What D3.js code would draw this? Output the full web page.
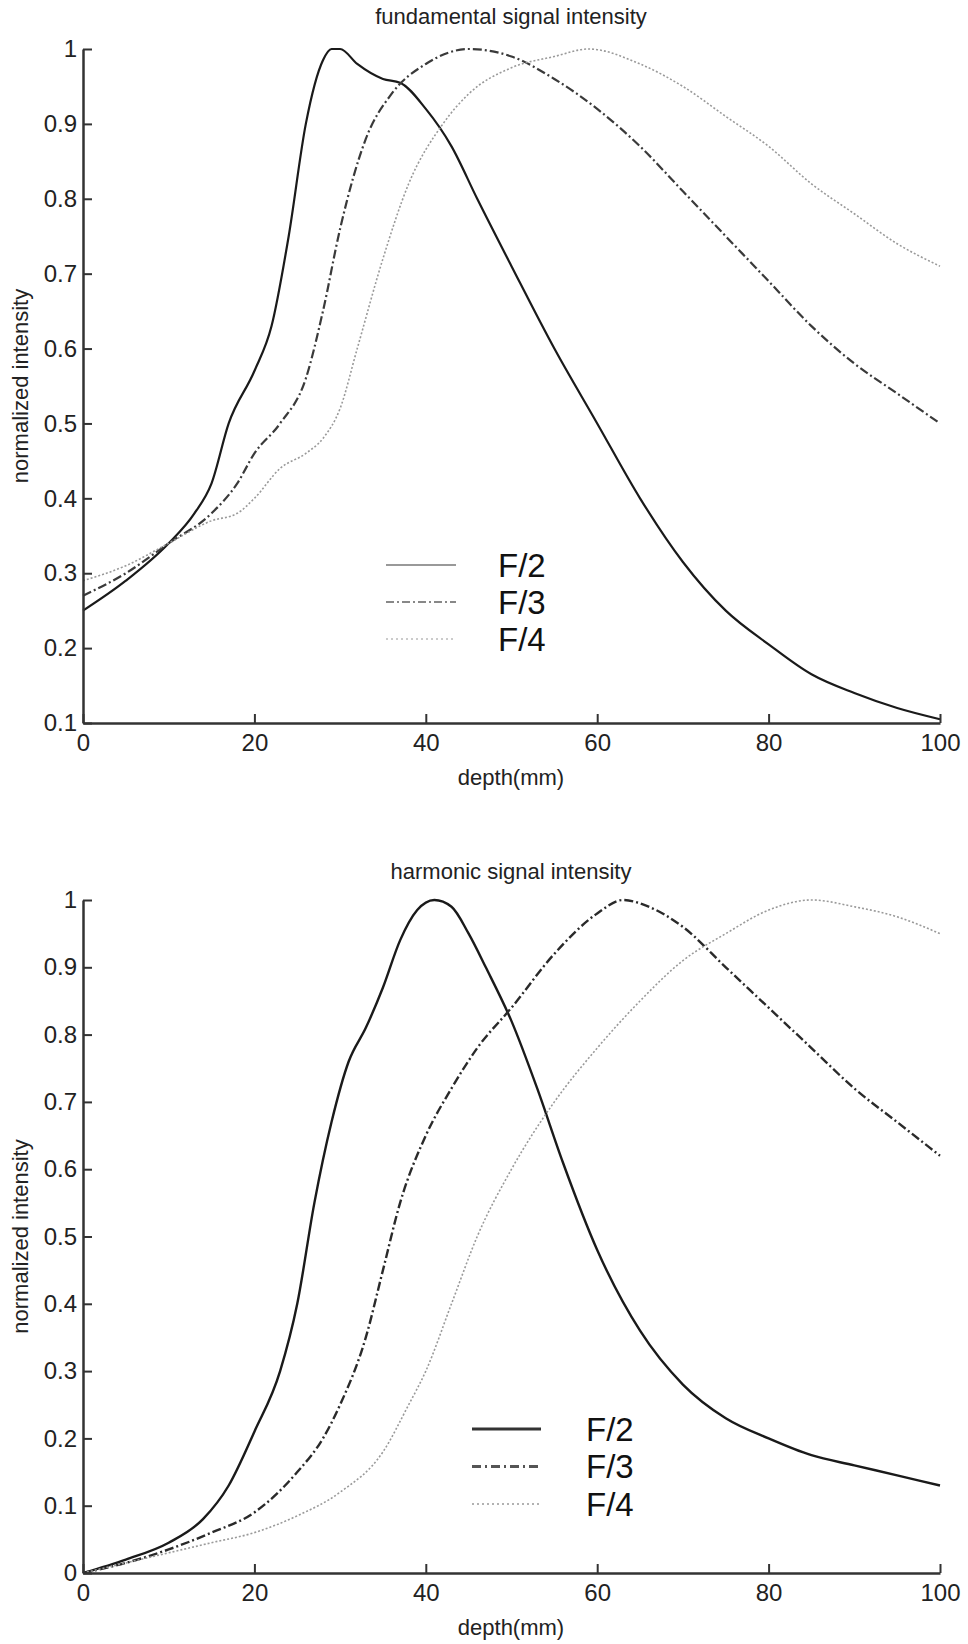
<!DOCTYPE html>
<html>
<head>
<meta charset="utf-8">
<script src="https://cdn.jsdelivr.net/npm/d3@7"></script>
<style>
  html, body { margin: 0; padding: 0; background: #fff; }
  svg { display: block; font-family: "Liberation Sans", Arial, sans-serif; }
</style>
</head>
<body>
<svg id="chart" width="968" height="1644"></svg>
<script>
// ---------- DATA ----------
const seriesNames = ["F/2", "F/3", "F/4"];
const xTicks = [0, 20, 40, 60, 80, 100];
const yTicksTop = [0.1, 0.2, 0.3, 0.4, 0.5, 0.6, 0.7, 0.8, 0.9, 1];
const yTicksBottom = [0, 0.1, 0.2, 0.3, 0.4, 0.5, 0.6, 0.7, 0.8, 0.9, 1];

// fundamental signal intensity
const fundDepthF2 = [0, 5, 10, 13, 15, 17, 20, 22, 24, 26, 28, 29, 30, 32, 35, 37, 40, 43, 46, 50, 55, 60, 65, 70, 75, 80, 85, 90, 95, 100];
const fundF2 =      [0.25, 0.29, 0.34, 0.38, 0.42, 0.50, 0.57, 0.63, 0.75, 0.90, 0.985, 1.0, 1.0, 0.98, 0.96, 0.955, 0.92, 0.87, 0.80, 0.71, 0.60, 0.50, 0.40, 0.315, 0.25, 0.205, 0.165, 0.14, 0.12, 0.105];
const fundDepthF3 = [0, 5, 10, 15, 18, 20, 23, 26, 28, 30, 33, 36, 40, 45, 50, 55, 60, 65, 70, 75, 80, 85, 90, 95, 100];
const fundF3 =      [0.27, 0.30, 0.34, 0.38, 0.42, 0.46, 0.50, 0.56, 0.65, 0.76, 0.88, 0.94, 0.98, 1.0, 0.99, 0.96, 0.92, 0.87, 0.81, 0.75, 0.69, 0.63, 0.58, 0.54, 0.50];
const fundDepthF4 = [0, 5, 10, 15, 18, 20, 23, 26, 28, 30, 32, 35, 38, 42, 45, 50, 55, 59, 65, 70, 75, 80, 85, 90, 95, 100];
const fundF4 =      [0.29, 0.31, 0.34, 0.37, 0.38, 0.40, 0.44, 0.46, 0.48, 0.52, 0.60, 0.72, 0.82, 0.90, 0.94, 0.975, 0.99, 1.0, 0.98, 0.95, 0.91, 0.87, 0.82, 0.78, 0.74, 0.71];

// harmonic signal intensity
const harmDepthF2 = [0, 5, 10, 14, 17, 20, 23, 25, 27, 29, 31, 33, 35, 37, 39, 41, 43, 45, 47, 50, 53, 56, 60, 65, 70, 75, 80, 85, 90, 95, 100];
const harmF2 =      [0.0, 0.02, 0.045, 0.08, 0.13, 0.21, 0.30, 0.40, 0.55, 0.67, 0.76, 0.81, 0.87, 0.94, 0.985, 1.0, 0.99, 0.95, 0.90, 0.82, 0.72, 0.61, 0.48, 0.36, 0.28, 0.23, 0.20, 0.175, 0.16, 0.145, 0.13];
const harmDepthF3 = [0, 5, 10, 15, 20, 25, 28, 30, 33, 35, 37, 40, 43, 46, 50, 55, 60, 63, 66, 70, 75, 80, 85, 90, 95, 100];
const harmF3 =      [0, 0.015, 0.035, 0.06, 0.09, 0.15, 0.20, 0.25, 0.35, 0.45, 0.55, 0.65, 0.72, 0.78, 0.84, 0.92, 0.98, 1.0, 0.99, 0.96, 0.90, 0.84, 0.78, 0.72, 0.67, 0.62];
const harmDepthF4 = [0, 5, 10, 15, 20, 25, 30, 35, 38, 40, 43, 46, 50, 55, 60, 65, 70, 75, 80, 85, 90, 95, 100];
const harmF4 =      [0, 0.015, 0.03, 0.045, 0.06, 0.085, 0.12, 0.18, 0.25, 0.30, 0.40, 0.50, 0.60, 0.70, 0.78, 0.85, 0.91, 0.95, 0.985, 1.0, 0.99, 0.975, 0.95];

// ---------- DRAW ----------
const svg = d3.select("#chart");

function zip(xs, ys) { return xs.map((x, i) => ({ x: x, y: ys[i] })); }

function panel(opts) {
  const g = svg.append("g");
  const x = d3.scaleLinear().domain([0, 100]).range([83, 940]);
  const y = d3.scaleLinear().domain(opts.yDomain).range([opts.bottom, opts.top]);

  // curves
  const line = d3.line().x(d => x(d.x)).y(d => y(d.y)).curve(d3.curveMonotoneX);
  opts.series.forEach((s, i) => {
    g.append("path")
      .datum(zip(s.xs, s.ys))
      .attr("fill", "none")
      .attr("stroke", opts.styles[i].color)
      .attr("stroke-width", opts.styles[i].width)
      .attr("stroke-dasharray", opts.styles[i].dash)
      .attr("d", line);
  });

  // axes
  const axColor = "#333";
  const xAxis = d3.axisBottom(x).tickValues(xTicks).tickSizeInner(-9).tickSizeOuter(0).tickPadding(14);
  const gx = g.append("g").attr("transform", `translate(0,${opts.bottom})`).call(xAxis);
  const yAxis = d3.axisLeft(y).tickValues(opts.yTicks).tickFormat(d3.format("")).tickSizeInner(-9).tickSizeOuter(0).tickPadding(6);
  const gy = g.append("g").attr("transform", `translate(83,0)`).call(yAxis);
  [gx, gy].forEach(a => {
    a.select(".domain").attr("stroke", axColor).attr("stroke-width", 2.5);
    a.selectAll(".tick line").attr("stroke", axColor).attr("stroke-width", 2);
    a.selectAll(".tick text").attr("fill", "#222").attr("font-size", 24)
      .attr("font-family", "'Liberation Sans', Arial, sans-serif");
  });
  gx.selectAll(".tick text").attr("dy", "0.71em").attr("y", 11);

  // title & labels
  g.append("text").attr("x", 511).attr("y", opts.titleY).attr("text-anchor", "middle")
    .attr("font-size", 22).attr("fill", "#222").text(opts.title);
  g.append("text").attr("x", 511).attr("y", opts.bottom + 62).attr("text-anchor", "middle")
    .attr("font-size", 22).attr("fill", "#222").text("depth(mm)");
  g.append("text")
    .attr("transform", `translate(28,${(opts.top + opts.bottom) / 2}) rotate(-90)`)
    .attr("text-anchor", "middle").attr("font-size", 22).attr("fill", "#222")
    .text("normalized intensity");

  // legend
  seriesNames.forEach((name, i) => {
    const ly = opts.legend.y + i * opts.legend.step;
    g.append("line")
      .attr("x1", opts.legend.x1).attr("x2", opts.legend.x2)
      .attr("y1", ly).attr("y2", ly)
      .attr("stroke", opts.legendStyles[i].color)
      .attr("stroke-width", opts.legendStyles[i].width)
      .attr("stroke-dasharray", opts.legendStyles[i].dash);
    g.append("text").attr("x", opts.legend.tx).attr("y", ly).attr("dy", "0.36em")
      .attr("font-size", 33).attr("fill", "#111").text(name);
  });
}

panel({
  top: 49, bottom: 723, yDomain: [0.1, 1], yTicks: yTicksTop,
  title: "fundamental signal intensity", titleY: 24,
  series: [{ xs: fundDepthF2, ys: fundF2 }, { xs: fundDepthF3, ys: fundF3 }, { xs: fundDepthF4, ys: fundF4 }],
  styles: [
    { color: "#1a1a1a", width: 2.2, dash: null },
    { color: "#3a3a3a", width: 2.2, dash: "9,3,2,3" },
    { color: "#9a9a9a", width: 1.6, dash: "2,2" }
  ],
  legendStyles: [
    { color: "#777", width: 1.6, dash: null },
    { color: "#888", width: 1.8, dash: "8,3,2,3" },
    { color: "#bbb", width: 1.4, dash: "2,3" }
  ],
  legend: { x1: 386, x2: 456, tx: 498, y: 565, step: 37 }
});

panel({
  top: 900, bottom: 1573, yDomain: [0, 1], yTicks: yTicksBottom,
  title: "harmonic signal intensity", titleY: 879,
  series: [{ xs: harmDepthF2, ys: harmF2 }, { xs: harmDepthF3, ys: harmF3 }, { xs: harmDepthF4, ys: harmF4 }],
  styles: [
    { color: "#1a1a1a", width: 2.4, dash: null },
    { color: "#2a2a2a", width: 2.4, dash: "9,3,2,3" },
    { color: "#9a9a9a", width: 1.6, dash: "2,2" }
  ],
  legendStyles: [
    { color: "#333", width: 3, dash: null },
    { color: "#555", width: 3, dash: "9,4,2,4" },
    { color: "#999", width: 1.6, dash: "2,3" }
  ],
  legend: { x1: 472, x2: 541, tx: 586, y: 1429, step: 37.5 }
});
</script>
</body>
</html>
